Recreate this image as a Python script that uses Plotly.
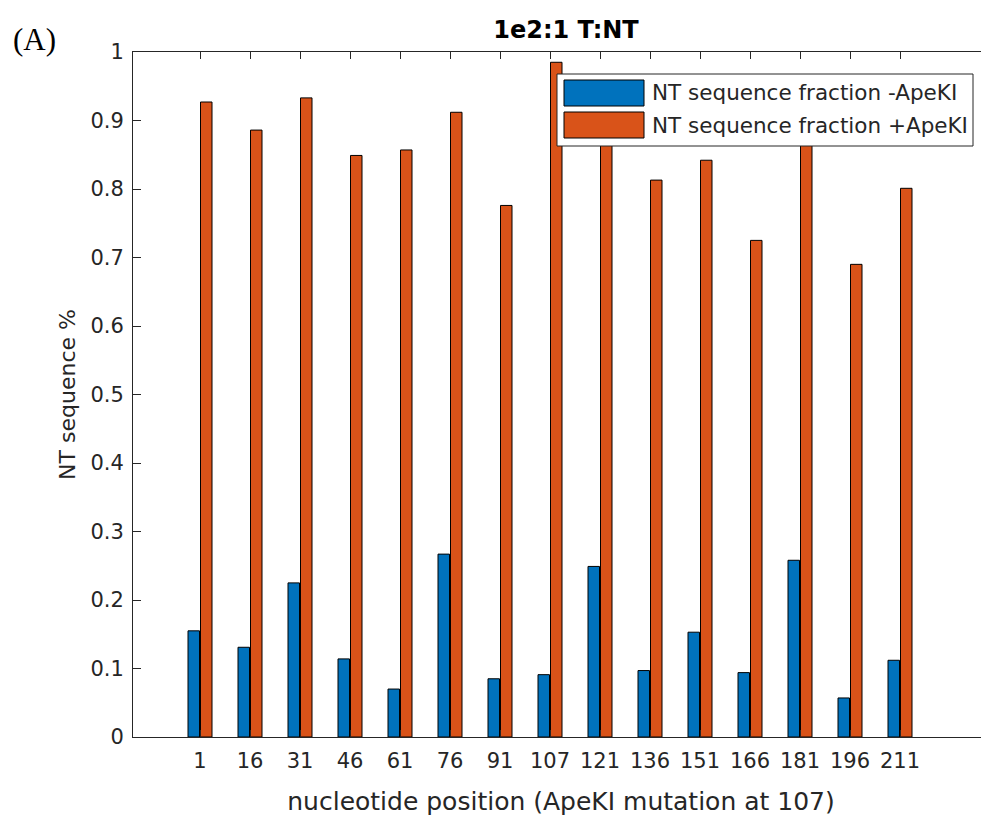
import plotly.graph_objects as go

# ---- data ----
positions = [1, 16, 31, 46, 61, 76, 91, 107, 121, 136, 151, 166, 181, 196, 211]
minus_apeki = [0.155, 0.131, 0.225, 0.114, 0.070, 0.267, 0.085, 0.091, 0.249,
               0.097, 0.153, 0.094, 0.258, 0.057, 0.112]
plus_apeki = [0.927, 0.886, 0.933, 0.849, 0.857, 0.912, 0.776, 0.985, 0.895,
              0.813, 0.842, 0.725, 0.878, 0.690, 0.801]
series_names = ["NT sequence fraction -ApeKI", "NT sequence fraction +ApeKI"]
series_colors = ["#0072BD", "#D95319"]
y_ticks = [0, 0.1, 0.2, 0.3, 0.4, 0.5, 0.6, 0.7, 0.8, 0.9, 1]
y_tick_labels = ["0", "0.1", "0.2", "0.3", "0.4", "0.5", "0.6", "0.7", "0.8", "0.9", "1"]

idx = list(range(len(positions)))
tick_text = [str(p) for p in positions]

OFF = 8  # browser body margin
W, H = 989 - OFF, 825 - OFF
ML, MR, MT, MB = 133 - OFF, 0, 52 - OFF, 88
PW, PH = W - ML - MR, H - MT - MB
AX = "#262626"
FONT = "DejaVu Sans"


def px_x(p):
    return (p - OFF - ML) / PW


def px_y(p):
    return (H - MB - (p - OFF)) / PH


fig = go.Figure()
for name, vals, col in zip(series_names, [minus_apeki, plus_apeki], series_colors):
    fig.add_trace(go.Bar(x=idx, y=vals, name=name, marker_color=col,
                         marker_line_color="black", marker_line_width=1,
                         showlegend=False))

fig.update_layout(
    width=W, height=H,
    margin=dict(l=ML, r=MR, t=MT, b=MB, pad=0),
    paper_bgcolor="white", plot_bgcolor="white",
    barmode="group", bargap=0.5, bargroupgap=0.08,
    font=dict(family=FONT, color=AX),
    title=dict(text="<b>1e2:1 T:NT</b>", x=(566 - OFF) / W, xref="container",
               xanchor="center", y=1 - (30 - OFF) / H, yref="container", yanchor="middle",
               font=dict(family=FONT, size=24, color="black")),
    xaxis=dict(range=[-1.34, 15.78], tickmode="array", tickvals=idx, ticktext=tick_text,
               showgrid=False, zeroline=False, showline=True, linecolor=AX, linewidth=1,
               mirror="ticks", ticks="inside", ticklen=7, tickcolor=AX, tickwidth=1,
               tickfont=dict(family=FONT, size=21, color=AX), ticklabelstandoff=5,
               title=dict(text="nucleotide position (ApeKI mutation at 107)",
                          font=dict(family=FONT, size=25, color=AX), standoff=20)),
    yaxis=dict(range=[0, 1], tickmode="array", tickvals=y_ticks, ticktext=y_tick_labels,
               showgrid=False, zeroline=False, showline=True, linecolor=AX, linewidth=1,
               mirror=False, ticks="inside", ticklen=8, tickcolor=AX, tickwidth=1,
               tickfont=dict(family=FONT, size=21, color=AX), ticklabelstandoff=4,
               title=dict(text="NT sequence %", font=dict(family=FONT, size=22, color=AX),
                          standoff=8)),
)

# custom MATLAB-like legend box
shapes = [dict(type="rect", xref="paper", yref="paper",
               x0=px_x(557), x1=px_x(973), y0=px_y(146), y1=px_y(74),
               fillcolor="white", line=dict(color=AX, width=1), layer="above")]
annotations = []
rows = [(80, 106), (112, 138)]
for (top, bot), name, col in zip(rows, series_names, series_colors):
    shapes.append(dict(type="rect", xref="paper", yref="paper",
                       x0=px_x(564), x1=px_x(644), y0=px_y(bot), y1=px_y(top),
                       fillcolor=col, line=dict(color="black", width=1), layer="above"))
    annotations.append(dict(text=name, xref="paper", yref="paper", x=px_x(650),
                            y=px_y((top + bot) / 2), xanchor="left", yanchor="middle",
                            showarrow=False, font=dict(family=FONT, size=21.5, color=AX)))

annotations.append(dict(text="(A)", xref="paper", yref="paper", x=px_x(11), y=px_y(40),
                        xanchor="left", yanchor="middle", showarrow=False,
                        font=dict(family="Liberation Serif", size=31, color="black")))

fig.update_layout(shapes=shapes, annotations=annotations)
fig.write_html("out.html")
